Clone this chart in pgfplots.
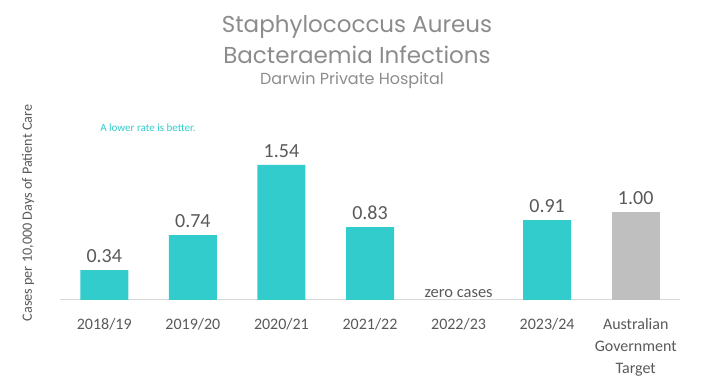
\documentclass[border=0pt]{standalone}
\usepackage{pgfplots}
\pgfplotsset{compat=1.18}
\usepackage{fontspec}
\setmainfont{Carlito}
\newfontfamily\titlefont{Poppins}
\definecolor{barteal}{HTML}{33CCCC}
\definecolor{txt}{HTML}{595959}
\definecolor{ttl}{HTML}{8C8C8C}
\definecolor{tgray}{HTML}{BFBFBF}
\begin{document}
\begin{tikzpicture}[x=1pt,y=1pt]
\useasboundingbox (0,0) rectangle (704,377);
\node[font=\titlefont\fontsize{23}{26}\selectfont, text=ttl] at (357,350) {Staphylococcus Aureus};
\node[font=\titlefont\fontsize{23}{26}\selectfont, text=ttl] at (357,322) {Bacteraemia Infections};
\node[font=\titlefont\fontsize{16}{19}\selectfont, text=ttl] at (352,297) {Darwin Private Hospital};
\node[font=\fontsize{14.2}{16}\selectfont, text=txt, rotate=90] at (28,164) {Cases per 10,000 Days of Patient Care};
\node[font=\fontsize{11}{13}\selectfont, text=barteal] at (148,249) {A lower rate is better.};
\begin{axis}[
  at={(60pt,77pt)}, anchor=south west,
  scale only axis, width=620pt, height=158pt,
  xmin=-0.5, xmax=6.5, ymin=0, ymax=1.8,
  axis x line=bottom, axis y line=none,
  x axis line style={-, draw=black!15, line width=1pt},
  major tick length=0pt,
  xtick={0,1,2,3,4,5,6},
  xticklabels={2018/19,2019/20,2020/21,2021/22,2022/23,2023/24,{Australian\\Government\\Target}},
  xticklabel style={align=center, font=\fontsize{16}{22}\selectfont, text=txt, anchor=north, yshift=-15pt},
  ybar, bar width=48pt,
  nodes near coords,
  nodes near coords style={font=\fontsize{20}{24}\selectfont, text=txt, yshift=4pt, /pgf/number format/fixed, /pgf/number format/fixed zerofill, /pgf/number format/precision=2, /pgf/number format/assume math mode=true},
  clip=false,
]
\addplot[fill=barteal, draw=none, bar shift=0pt] coordinates {(0,0.34) (1,0.74) (2,1.54) (3,0.83) (5,0.91)};
\addplot[fill=tgray, draw=none, bar shift=0pt] coordinates {(6,1.00)};
\node[anchor=south, font=\fontsize{16.5}{19}\selectfont, text=txt, yshift=-1pt] at (axis cs:4,0) {zero cases};
\end{axis}
\end{tikzpicture}
\end{document}
